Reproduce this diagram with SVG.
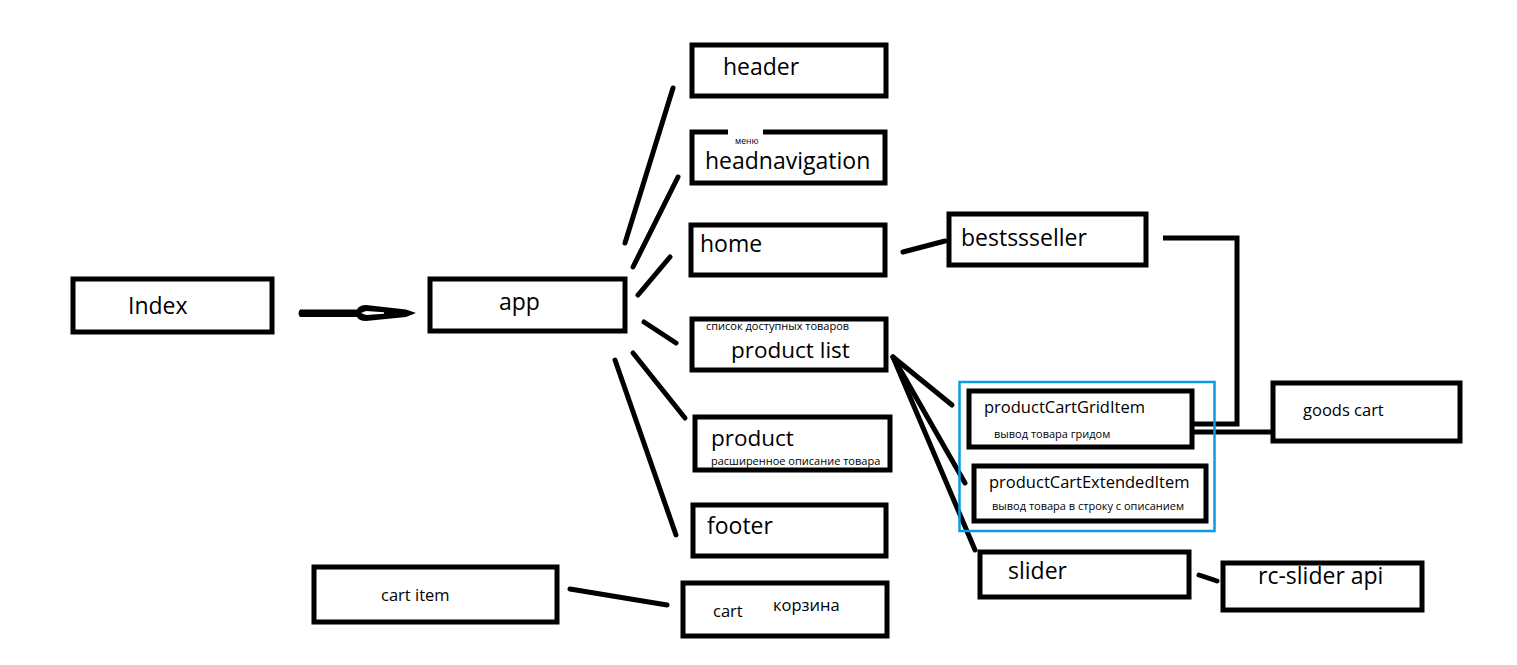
<svg xmlns="http://www.w3.org/2000/svg" width="1517" height="665" viewBox="0 0 1517 665">
<style>
.box{fill:#fff;stroke:#000;stroke-width:5}
.t{font-family:"Open Sans","Noto Sans",sans-serif;fill:#000}
.big{font-size:23px}
.mid{font-size:16.5px}
.cg{font-size:16.5px}
.sm{font-size:11px}
.ln{stroke:#000;stroke-width:5;stroke-linecap:round;fill:none}
</style>
<rect width="1517" height="665" fill="#fff"/>
<g id="connectors">
<line class="ln" x1="625" y1="243" x2="673" y2="88"/>
<line class="ln" x1="633" y1="267" x2="678" y2="177"/>
<line class="ln" x1="638" y1="295" x2="670" y2="257"/>
<line class="ln" x1="644" y1="322" x2="676" y2="343"/>
<line class="ln" x1="633" y1="353" x2="685" y2="418"/>
<line class="ln" x1="615" y1="360" x2="676" y2="535"/>
<line class="ln" x1="903" y1="252" x2="945" y2="241"/>
<line class="ln" x1="893" y1="357" x2="952" y2="405"/>
<line class="ln" x1="893" y1="357" x2="965" y2="483"/>
<line class="ln" x1="893" y1="357" x2="975" y2="550"/>
<polyline class="ln" style="stroke-linecap:butt" points="1163,238 1237,238 1237,424 1193,424"/>
<line class="ln" style="stroke-linecap:butt" x1="1193" y1="432" x2="1272" y2="432"/>
<line class="ln" x1="1199" y1="575" x2="1217" y2="581"/>
<line class="ln" x1="570" y1="589" x2="667" y2="605"/>
<g id="arrow">
<path d="M300,309.5 L357,309.5 Q359,305 366,305 L406,309.5 L416,313 L406,317 L366,321 Q359,321 357,317 L300,317 Q297,313.5 300,309.5 Z" fill="#000"/>
<path d="M361,313 L366,311 L384,312.3 L384,313.7 L366,315 Z" fill="#fff"/>
</g>
</g>
<g id="Index"><rect class="box" x="73" y="279" width="199" height="53"/><text class="t big" x="128" y="314">Index</text></g>
<g id="app"><rect class="box" x="430" y="279" width="195" height="52"/><text class="t big" x="499" y="310">app</text></g>
<g id="header"><rect class="box" x="692" y="45" width="194" height="51"/><text class="t big" x="723" y="75">header</text></g>
<g id="headnavigation"><rect class="box" x="692" y="132" width="193" height="51"/><rect x="728" y="129" width="35" height="11" fill="#fff"/><text class="t" style="font-size:8.5px" x="735" y="144">меню</text><text class="t big" x="705" y="169">headnavigation</text></g>
<g id="home"><rect class="box" x="691" y="225" width="194" height="50"/><text class="t big" x="700" y="252">home</text></g>
<g id="productlist"><rect class="box" x="692" y="319" width="194" height="51"/><text class="t sm" x="706" y="330">список доступных товаров</text><text class="t" style="font-size:22.5px" x="731" y="358">product list</text></g>
<g id="product"><rect class="box" x="695" y="417" width="195" height="53"/><text class="t" style="font-size:22.5px" x="711" y="446">product</text><text class="t sm" x="711" y="465">расширенное описание товара</text></g>
<g id="footer"><rect class="box" x="693" y="505" width="193" height="51"/><text class="t big" x="707" y="534">footer</text></g>
<g id="bestssseller"><rect class="box" x="949" y="214" width="197" height="51"/><text class="t big" x="961" y="246">bestssseller</text></g>
<g id="group"><rect x="959.5" y="382" width="255" height="149" fill="none" stroke="#0a9be0" stroke-width="2.5"/></g>
<g id="productCartGridItem"><rect class="box" x="969" y="391" width="223" height="56"/><text class="t cg" x="984" y="413">productCartGridItem</text><text class="t sm" x="994" y="438">вывод товара гридом</text></g>
<g id="productCartExtendedItem"><rect class="box" x="974" y="466" width="232" height="55"/><text class="t cg" x="989" y="488">productCartExtendedItem</text><text class="t sm" x="992" y="510">вывод товара в строку с описанием</text></g>
<g id="goodscart"><rect class="box" x="1273" y="383" width="187" height="58"/><text class="t mid" x="1303" y="416">goods cart</text></g>
<g id="slider"><rect class="box" x="980" y="552" width="209" height="45"/><text class="t big" x="1008" y="579">slider</text></g>
<g id="rcslider"><rect class="box" x="1223" y="563" width="199" height="47"/><text class="t big" x="1258" y="584">rc-slider api</text></g>
<g id="cartitem"><rect class="box" x="314" y="567" width="243" height="55"/><text class="t mid" x="381" y="601">cart item</text></g>
<g id="cart"><rect class="box" x="683" y="583" width="204" height="53"/><text class="t mid" x="713" y="617">cart</text><text class="t mid" x="773" y="611">корзина</text></g>
</svg>
